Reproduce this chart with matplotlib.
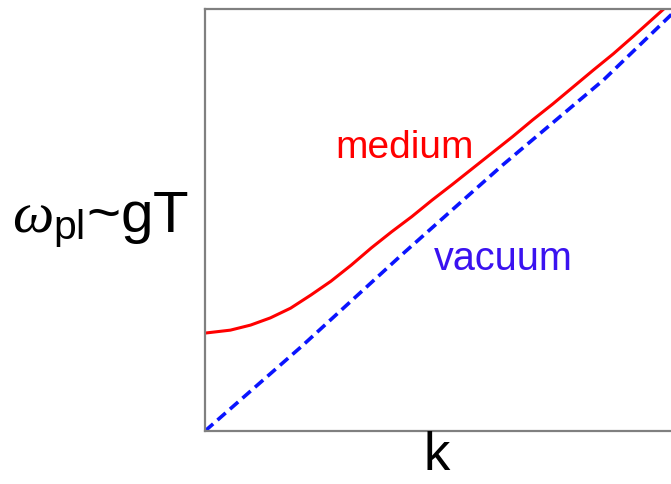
import matplotlib.pyplot as plt

plt.rcParams['font.family'] = ['Liberation Sans', 'DejaVu Sans']
plt.rcParams['mathtext.fontset'] = 'custom'
plt.rcParams['mathtext.rm'] = 'Liberation Sans'
plt.rcParams['mathtext.it'] = 'Liberation Serif:italic'

# dispersion curves, k and omega in axis units
k_medium = [0.0, 0.054, 0.097, 0.139, 0.182, 0.225, 0.268, 0.311, 0.354,
            0.397, 0.440, 0.483, 0.526, 0.569, 0.612, 0.655, 0.697, 0.740,
            0.783, 0.826, 0.869, 0.912, 0.976]
w_medium = [0.232, 0.239, 0.251, 0.268, 0.291, 0.322, 0.355, 0.393, 0.434,
            0.472, 0.508, 0.547, 0.584, 0.622, 0.660, 0.698, 0.737, 0.775,
            0.815, 0.855, 0.894, 0.936, 1.0]
k_vacuum = [0.0, 0.204, 0.418, 0.633, 0.848, 0.998]
w_vacuum = [0.0, 0.199, 0.417, 0.630, 0.832, 0.993]

fig = plt.figure(figsize=(6.71, 4.84), dpi=100)
ax = fig.add_axes([205 / 671, 53 / 484, 470 / 671, 422 / 484])

ax.plot(k_medium, w_medium, color='#ff0000', lw=2.2)
ax.plot(k_vacuum, w_vacuum, color='#0a14ff', lw=2.6, dashes=(3.0, 1.6))

ax.set_xlim(0, 1)
ax.set_ylim(0, 1)
ax.set_xticks([])
ax.set_yticks([])
for side in ['left', 'top', 'bottom']:
    ax.spines[side].set_color('#808080')
    ax.spines[side].set_linewidth(1.6)
ax.spines['right'].set_visible(False)

fig.text(405 / 671, 1 - 148 / 484, 'medium', color='#ff0000', fontsize=28,
         ha='center', va='center')
fig.text(503 / 671, 1 - 259 / 484, 'vacuum', color='#3a12f0', fontsize=28.5,
         ha='center', va='center')
fig.text(437 / 671, 1 - 470 / 484, 'k', fontsize=38, ha='center',
         va='baseline')
fig.text(12 / 671, 1 - 232 / 484, r'$\omega_{\mathrm{pl}}$~gT', fontsize=42,
         ha='left', va='baseline')

fig.savefig('out.png', dpi=100)
